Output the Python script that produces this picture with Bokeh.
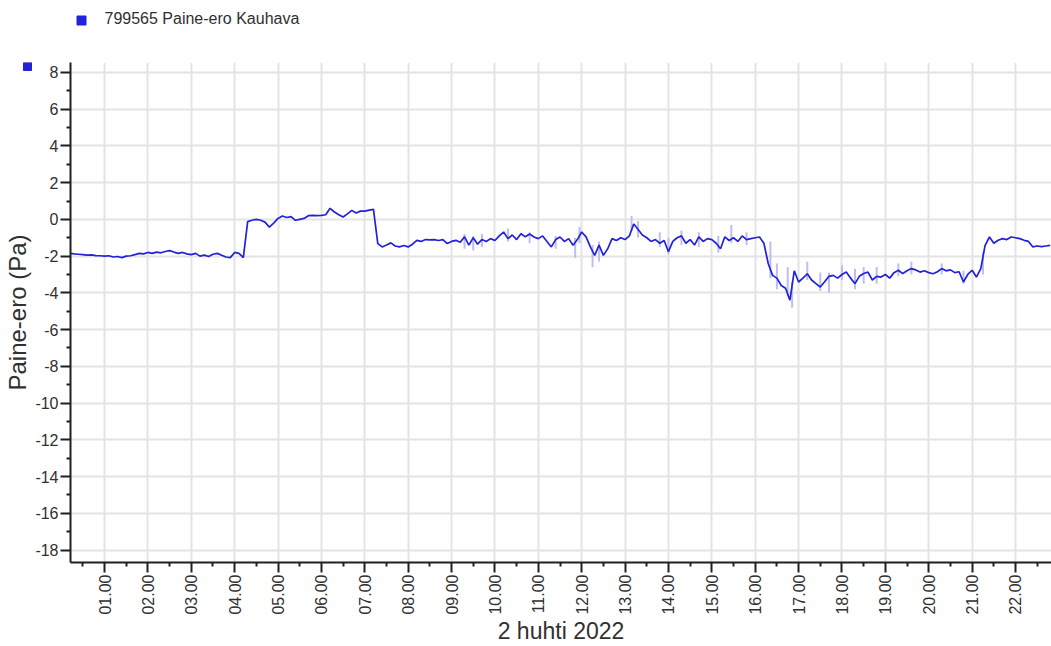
import math
from bokeh.plotting import figure
from bokeh.layouts import column, row
from bokeh.models import FixedTicker, Range1d, Label, ColumnDataSource
from bokeh.embed import file_html
from bokeh.resources import INLINE

# ---- data -------------------------------------------------------------
hour_ticks = [1, 2, 3, 4, 5, 6, 7, 8, 9, 10, 11, 12, 13, 14, 15, 16, 17, 18, 19, 20, 21, 22]
hour_labels = ["01.00", "02.00", "03.00", "04.00", "05.00", "06.00", "07.00", "08.00",
               "09.00", "10.00", "11.00", "12.00", "13.00", "14.00", "15.00", "16.00",
               "17.00", "18.00", "19.00", "20.00", "21.00", "22.00"]
half_hour_ticks = [0.5, 1.5, 2.5, 3.5, 4.5, 5.5, 6.5, 7.5, 8.5, 9.5, 10.5, 11.5, 12.5,
                   13.5, 14.5, 15.5, 16.5, 17.5, 18.5, 19.5, 20.5, 21.5, 22.5]
y_ticks = [-18, -16, -14, -12, -10, -8, -6, -4, -2, 0, 2, 4, 6, 8]
y_labels = ["-18", "-16", "-14", "-12", "-10", "-8", "-6", "-4", "-2", "0", "2", "4", "6", "8"]
y_minor = [-17, -15, -13, -11, -9, -7, -5, -3, -1, 1, 3, 5, 7]

series_name = "799565  Paine-ero Kauhava"
x_title = "2 huhti 2022"
y_title = "Paine-ero (Pa)"

# pressure difference (Pa), one row per hour, samples every 6 minutes
# hour 0 starts at 00:12, hour 22 ends at 22:48
pa_h00 = [-1.85, -1.88, -1.90, -1.92, -1.95, -1.93, -1.97, -1.98]
pa_h01 = [-2.00, -1.98, -2.05, -2.02, -2.08, -2.00, -1.98, -1.92, -1.85, -1.88]
pa_h02 = [-1.80, -1.85, -1.78, -1.82, -1.75, -1.70, -1.78, -1.85, -1.80, -1.88]
pa_h03 = [-1.92, -1.85, -2.00, -1.95, -2.02, -1.90, -1.85, -1.95, -2.05, -2.08]
pa_h04 = [-1.80, -1.85, -2.08, -0.12, -0.05, 0.00, -0.05, -0.15, -0.42, -0.20]
pa_h05 = [0.05, 0.18, 0.10, 0.15, -0.05, 0.00, 0.05, 0.20, 0.22, 0.20]
pa_h06 = [0.22, 0.25, 0.60, 0.40, 0.25, 0.13, 0.30, 0.49, 0.35, 0.45]
pa_h07 = [0.45, 0.50, 0.54, -1.32, -1.50, -1.40, -1.28, -1.45, -1.50, -1.42]
pa_h08 = [-1.50, -1.35, -1.14, -1.20, -1.10, -1.12, -1.10, -1.15, -1.10, -1.32]
pa_h09 = [-1.20, -1.14, -1.25, -0.95, -1.40, -1.00, -1.35, -1.10, -1.20, -1.05]
pa_h10 = [-1.15, -0.90, -0.69, -1.05, -0.85, -1.10, -0.78, -0.95, -0.80, -0.96]
pa_h11 = [-1.05, -0.90, -1.20, -1.50, -1.10, -0.96, -1.20, -1.05, -1.41, -1.10]
pa_h12 = [-0.69, -0.95, -1.50, -1.96, -1.40, -1.96, -1.60, -1.05, -1.15, -1.00]
pa_h13 = [-1.10, -0.90, -0.25, -0.55, -0.85, -1.00, -1.20, -1.10, -1.30, -1.15]
pa_h14 = [-1.76, -1.20, -1.00, -0.90, -1.30, -1.10, -1.40, -0.95, -1.20, -1.05]
pa_h15 = [-1.10, -1.30, -1.60, -0.95, -1.15, -1.00, -1.20, -0.90, -1.10, -1.05]
pa_h16 = [-1.00, -0.96, -1.30, -2.40, -3.05, -3.20, -3.60, -3.75, -4.40, -2.80]
pa_h17 = [-3.41, -3.20, -2.96, -3.30, -3.50, -3.68, -3.40, -3.10, -3.05, -3.20]
pa_h18 = [-3.00, -2.87, -3.20, -3.50, -3.10, -2.95, -2.87, -3.30, -3.10, -3.14]
pa_h19 = [-3.00, -3.20, -2.90, -2.77, -2.95, -2.80, -2.68, -2.75, -2.87, -2.80]
pa_h20 = [-2.90, -2.96, -2.85, -2.68, -2.80, -2.75, -2.90, -2.85, -3.41, -3.00]
pa_h21 = [-2.77, -3.14, -2.68, -1.41, -0.96, -1.30, -1.14, -1.05, -1.10, -0.96]
pa_h22 = [-1.00, -1.05, -1.14, -1.20, -1.50, -1.45, -1.48, -1.45, -1.42]

hour_rows = [pa_h00, pa_h01, pa_h02, pa_h03, pa_h04, pa_h05, pa_h06, pa_h07, pa_h08,
             pa_h09, pa_h10, pa_h11, pa_h12, pa_h13, pa_h14, pa_h15, pa_h16, pa_h17,
             pa_h18, pa_h19, pa_h20, pa_h21, pa_h22]

# short-term spread (min / max) seen as the light band around the line
spread_t = [9.3, 9.5, 9.7, 10.3, 10.8, 11.4, 11.85, 11.95, 12.25, 12.4, 13.15, 13.3,
            13.8, 14.0, 14.3, 14.7, 15.15, 15.45, 15.8, 16.35, 16.5, 16.75, 16.85,
            17.2, 17.5, 17.7, 18.0, 18.3, 18.5, 18.8, 19.3, 19.6, 20.3, 20.8, 21.25]
spread_lo = [-1.6, -1.7, -1.5, -1.2, -1.3, -1.6, -2.1, -1.3, -2.6, -2.3, -0.6, -1.0,
             -1.5, -1.9, -1.4, -1.5, -1.8, -1.3, -1.4, -3.2, -3.8, -4.2, -4.8,
             -3.3, -3.9, -4.0, -3.3, -3.8, -3.5, -3.5, -3.1, -3.0, -3.0, -3.5, -3.0]
spread_hi = [-0.8, -0.9, -0.8, -0.5, -0.7, -0.9, -1.0, -0.4, -1.4, -1.2, 0.18, -0.1,
             -0.7, -1.0, -0.6, -0.7, -0.9, -0.3, -0.7, -1.2, -2.4, -2.6, -3.4,
             -2.3, -2.9, -2.9, -2.5, -2.7, -2.6, -2.6, -2.4, -2.3, -2.4, -2.8, -1.8]

# ---- build sample table --------------------------------------------------
times, values = [], []
for h, r in enumerate(hour_rows):
    start = 0.2 if h == 0 else float(h)
    for i, v in enumerate(r):
        times.append(round(start + i * 0.1, 3))
        values.append(v)

line_src = ColumnDataSource(dict(t=times, pa=values))
spread_src = ColumnDataSource(dict(t=spread_t, lo=spread_lo, hi=spread_hi))

# ---- styling constants ----------------------------------------------------
FONT = "Liberation Sans"
TXT = "#303030"
BLUE = "#2222d8"
W, H = 1051, 646
HEAD_H = 54
STRIP_W = 32
BORDER_TOP, BORDER_BOTTOM = 8, 83
FRAME_H = H - HEAD_H - BORDER_TOP - BORDER_BOTTOM


def bare(fig):
    fig.axis.visible = False
    fig.grid.visible = False
    fig.outline_line_color = None
    fig.background_fill_color = "white"
    fig.border_fill_color = "white"
    return fig


# ---- header: series key ----------------------------------------------------
head = bare(figure(width=W, height=HEAD_H, output_backend="svg", toolbar_location=None,
                   x_range=Range1d(0, W), y_range=Range1d(HEAD_H, 0), min_border=0))
head.scatter(x=[81], y=[20], marker="square", size=9, color=BLUE, line_color=BLUE)
head.add_layout(Label(x=104, y=HEAD_H - 18, x_units="screen", y_units="screen",
                      text=series_name, text_font=FONT, text_font_size="16px",
                      text_color=TXT, text_align="left", text_baseline="middle"))

# ---- left strip: axis title and axis key ------------------------------------
strip_h = H - HEAD_H
strip = bare(figure(width=STRIP_W, height=strip_h, output_backend="svg",
                    toolbar_location=None,
                    x_range=Range1d(0, STRIP_W), y_range=Range1d(FRAME_H, 0),
                    min_border_left=0, min_border_right=0,
                    min_border_top=BORDER_TOP, min_border_bottom=BORDER_BOTTOM))
strip.scatter(x=[27], y=[4], marker="square", size=8, color=BLUE, line_color=BLUE)
strip.add_layout(Label(x=17, y=FRAME_H - 251, x_units="screen", y_units="screen",
                       text=y_title, angle=math.pi / 2,
                       text_font=FONT, text_font_size="24px", text_color=TXT,
                       text_align="center", text_baseline="middle"))

# ---- main chart -----------------------------------------------------------
p = figure(width=W - STRIP_W, height=strip_h, output_backend="svg", toolbar_location=None,
           x_range=Range1d(0.216, 22.83), y_range=Range1d(-18.68, 8.54),
           min_border_left=36, min_border_right=0, min_border_top=BORDER_TOP,
           min_border_bottom=BORDER_BOTTOM)
p.outline_line_color = None
p.background_fill_color = "white"
p.border_fill_color = "white"

p.segment(x0="t", y0="lo", x1="t", y1="hi", source=spread_src,
          line_color="#bdbdf3", line_width=2)
p.line(x="t", y="pa", source=line_src, line_color=BLUE, line_width=1.7)

p.xaxis.ticker = FixedTicker(ticks=hour_ticks, minor_ticks=half_hour_ticks)
p.xaxis.major_label_overrides = {t: lab for t, lab in zip(hour_ticks, hour_labels)}
p.xaxis.major_label_orientation = math.pi / 2
p.yaxis.ticker = FixedTicker(ticks=y_ticks, minor_ticks=y_minor)
p.yaxis.major_label_overrides = {t: lab for t, lab in zip(y_ticks, y_labels)}

for ax in (p.xaxis[0], p.yaxis[0]):
    ax.axis_line_color = "#202020"
    ax.axis_line_width = 2
    ax.major_tick_line_color = "#202020"
    ax.major_tick_line_width = 2
    ax.minor_tick_line_color = "#202020"
    ax.minor_tick_line_width = 2
    ax.major_tick_in = 0
    ax.minor_tick_in = 0
    ax.major_label_text_font = FONT
    ax.major_label_text_font_size = "16px"
    ax.major_label_text_color = TXT

p.xaxis.major_tick_out = 10
p.xaxis.minor_tick_out = 4
p.xaxis.major_label_standoff = 2
p.xaxis.axis_label = x_title
p.xaxis.axis_label_standoff = 0
p.xaxis.axis_label_text_font = FONT
p.xaxis.axis_label_text_font_style = "normal"
p.xaxis.axis_label_text_font_size = "23px"
p.xaxis.axis_label_text_color = TXT
p.yaxis.major_tick_out = 10
p.yaxis.minor_tick_out = 4
p.yaxis.major_label_standoff = 2

p.xgrid.ticker = FixedTicker(ticks=hour_ticks)
p.ygrid.ticker = FixedTicker(ticks=y_ticks)
p.grid.grid_line_color = "#e4e4e4"
p.grid.grid_line_width = 2

layout = column(head, row(strip, p, spacing=0), spacing=0)
open("out.html", "w").write(file_html(layout, INLINE))
